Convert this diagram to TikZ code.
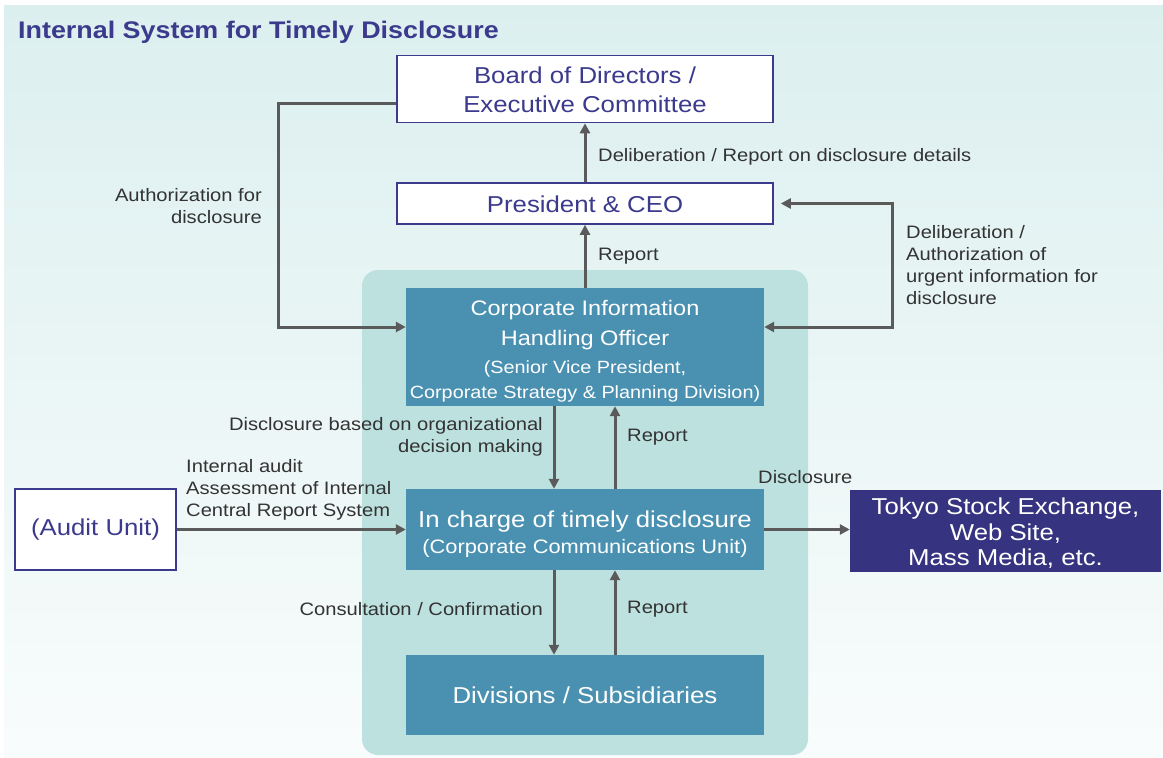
\documentclass[tikz,border=0pt]{standalone}
\usepackage{fontspec}
\setmainfont[FakeStretch=1.12]{Liberation Sans}
\usetikzlibrary{arrows.meta}
\definecolor{navy}{HTML}{3B3A8C}
\definecolor{navyfill}{HTML}{363480}
\definecolor{tealbox}{HTML}{4A91B1}
\definecolor{panel}{HTML}{BDE1DF}
\definecolor{arrowgray}{HTML}{5A5A5A}
\definecolor{labelgray}{HTML}{333333}
\definecolor{bgtop}{HTML}{DCEFEF}
\definecolor{bgbot}{HTML}{F9FCFC}
\tikzset{
  whitebox/.style={draw=navy, line width=1.6pt, fill=white, text=navy, align=center, inner sep=0pt},
  bluebox/.style={fill=tealbox, text=white, align=center, inner sep=0pt, minimum width=358pt},
  darkbox/.style={fill=navyfill, text=white, align=center, inner sep=0pt},
  lbl/.style={text=labelgray, inner sep=0pt, font=\fontsize{18}{22}\selectfont},
  arr/.style={draw=arrowgray, line width=3pt, -{Triangle[length=10pt,width=10pt]}},
  arrboth/.style={draw=arrowgray, line width=3pt, {Triangle[length=10pt,width=10pt]}-{Triangle[length=10pt,width=10pt]}},
}
\begin{document}
\begin{tikzpicture}[x=1pt,y=-1pt]
\useasboundingbox (0,0) rectangle (1163,758);
\fill[white] (0,0) rectangle (1163,758);
\shade[top color=bgtop, bottom color=bgbot] (4,5) rectangle (1163,758);
% panel
\fill[panel, rounded corners=16pt] (362,270) rectangle (808,755);
% title
\node[anchor=west, text=navy, inner sep=0pt, font=\bfseries\fontsize{24}{28}\selectfont] (title) at (18,32.5) {Internal System for Timely Disclosure};
% boxes
\node[whitebox, minimum width=376pt, minimum height=67pt, font=\fontsize{23}{29}\selectfont] (board) at (585,89) {\rule{0pt}{18pt}Board of Directors /\\Executive Committee};
\node[whitebox, minimum width=376pt, minimum height=41pt, font=\fontsize{23}{28}\selectfont] (pres) at (585,203.5) {\rule{0pt}{18pt}President \& CEO};
\node[bluebox, minimum height=118pt, font=\fontsize{21}{25}\selectfont] (ciho) at (585,347) {\rule{0pt}{23.5pt}Corporate Information\\[5pt]Handling Officer\\[3pt]\fontsize{17.7}{25}\selectfont (Senior Vice President,\\\fontsize{17.7}{25}\selectfont Corporate Strategy \& Planning Division)};
\node[bluebox, minimum height=81pt, font=\fontsize{23}{26.5}\selectfont] (timely) at (585,529.5) {\rule{0pt}{26pt}In charge of timely disclosure\\\fontsize{19.5}{26.5}\selectfont (Corporate Communications Unit)};
\node[bluebox, minimum height=80pt, font=\fontsize{23}{28}\selectfont] (div) at (585,695) {Divisions / Subsidiaries};
\node[whitebox, minimum width=161pt, minimum height=81pt, font=\fontsize{23}{28}\selectfont] (audit) at (95.5,529.5) {(Audit Unit)};
\node[darkbox, minimum width=311pt, minimum height=82pt, font=\fontsize{23}{25.5}\selectfont] (tse) at (1005.5,531) {\rule{0pt}{21pt}Tokyo Stock Exchange,\\Web Site,\\Mass Media, etc.};
% helper coordinates
\coordinate (lx) at (278,0);
\coordinate (rx) at (892,0);
\coordinate (boardL) at ([yshift=-14pt]board.west);
\coordinate (cihoL) at ([yshift=20pt]ciho.west);
\coordinate (cihoR) at ([yshift=20pt]ciho.east);
\coordinate (presR) at ([xshift=7pt]pres.east);
% connectors
\draw[arr] (pres.north) -- (board.south);
\draw[arr] (ciho.north) -- (pres.south);
\draw[arr] (boardL) -| (lx |- cihoL) -- (cihoL);
\draw[arrboth] (presR) -| (rx |- cihoR) -- (cihoR);
\draw[arr] ([xshift=-31pt]ciho.south) -- ([xshift=-31pt]timely.north);
\draw[arr] ([xshift=30pt]timely.north) -- ([xshift=30pt]ciho.south);
\draw[arr] ([xshift=-31pt]timely.south) -- ([xshift=-31pt]div.north);
\draw[arr] ([xshift=30pt]div.north) -- ([xshift=30pt]timely.south);
\draw[arr] (audit.east) -- (timely.west);
\draw[arr] (timely.east) -- (timely.east -| tse.west);
% labels
\node[lbl, anchor=west] (l1) at (598,157) {Deliberation / Report on disclosure details};
\node[lbl, anchor=east, align=right] (l2) at (262,206) {Authorization for\\disclosure};
\node[lbl, anchor=west] (l3) at (598,256) {Report};
\node[lbl, anchor=west, align=left] (l4) at (906,265) {Deliberation /\\Authorization of\\urgent information for\\disclosure};
\node[lbl, anchor=east, align=right] (l5) at (543,437) {Disclosure based on organizational\\decision making};
\node[lbl, anchor=west] (l6) at (627,437) {Report};
\node[lbl, anchor=west, align=left] (l7) at (186,490) {Internal audit\\Assessment of Internal\\Central Report System};
\node[lbl, anchor=west] (l8) at (758,477) {Disclosure};
\node[lbl, anchor=east] (l9) at (543,609) {Consultation / Confirmation};
\node[lbl, anchor=west] (l10) at (627,609) {Report};
\end{tikzpicture}
\end{document}
